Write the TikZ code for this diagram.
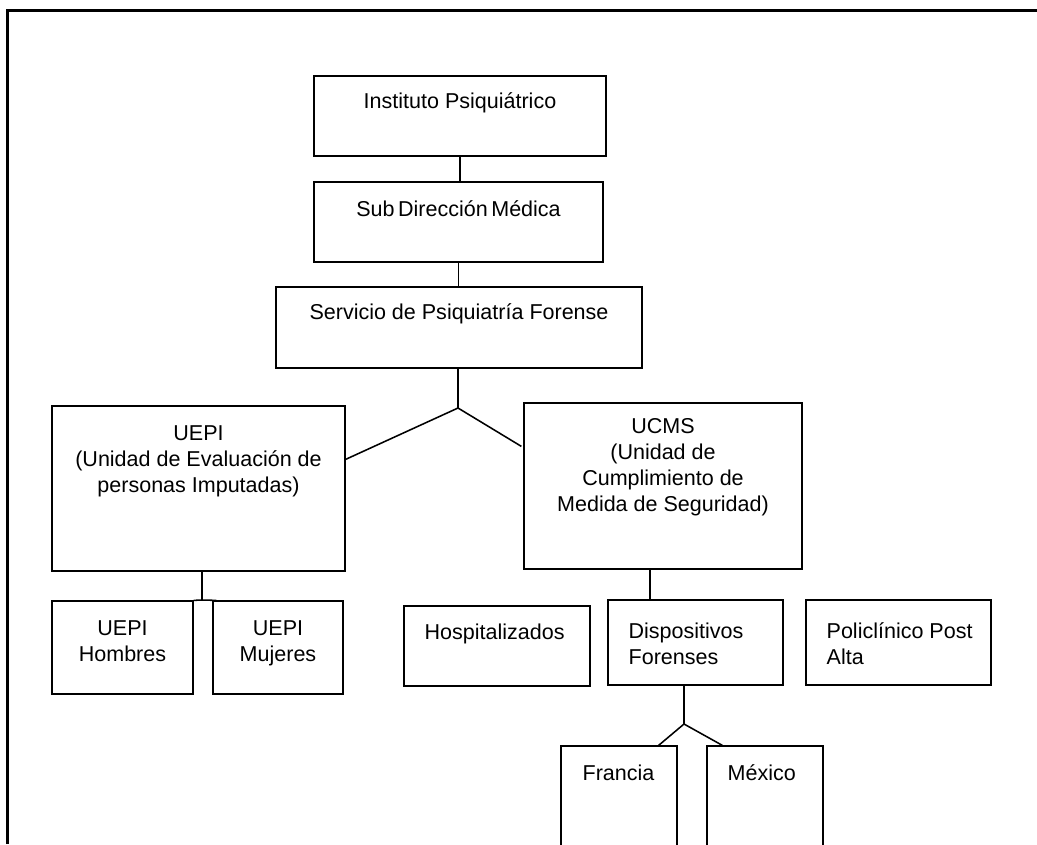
\documentclass[tikz,border=0pt]{standalone}
\usepackage{fontspec}
\setmainfont{Liberation Sans}
\usepackage{tikz}
\usetikzlibrary{positioning,fit}

\tikzset{
  orgbox/.style={draw, line width=0.9pt, inner sep=0pt},
  orgtxt/.style={font=\fontsize{15.3}{18.5}\selectfont, inner sep=0pt, align=center, anchor=base},
  orgtxtl/.style={orgtxt, align=left, anchor=base west},
  link/.style={line width=1.1pt}
}

\begin{document}
\begin{tikzpicture}[x=0.025cm, y=-0.025cm]
  \useasboundingbox (0,0) rectangle (1037,844);
  % frame (cut off right and bottom)
  \draw[line width=2.2pt] (7.5,844) -- (7.5,10.5) -- (1037,10.5);

  \node[orgbox, fit={(314,76) (606,156)}] (inst) {};
  \node[orgbox, fit={(314,182) (603,262)}] (sub) {};
  \node[orgbox, fit={(276,287) (642,368)}] (serv) {};
  \node[orgbox, fit={(52,406) (345,571)}] (uepi) {};
  \node[orgbox, fit={(524,403) (802,569)}] (ucms) {};
  \node[orgbox, fit={(52,601) (193,694)}] (hom) {};
  \node[orgbox, fit={(213,601) (343,694)}] (muj) {};
  \node[orgbox, fit={(404,606) (590,686)}] (hosp) {};
  \node[orgbox, fit={(608,600) (783,685)}] (disp) {};
  \node[orgbox, fit={(806,600) (991,685)}] (poli) {};
  \node[orgbox, fit={(561,746) (677,860)}] (fra) {};
  \node[orgbox, fit={(707,746) (823,860)}] (mex) {};

  % text sits on the baseline of its last line
  \node[orgtxt] (inst-t) at ([yshift=-0.82cm]inst.north) {Instituto Psiquiátrico};
  \node[orgtxt] (sub-t) at ([yshift=-0.88cm]sub.north) {Sub\,Dirección\,Médica};
  \node[orgtxt] (serv-t) at ([yshift=-0.84cm]serv.north) {Servicio de Psiquiatría Forense};
  \node[orgtxt] (uepi-t) at ([yshift=-2.175cm]uepi.north)
    {UEPI\\(Unidad de Evaluación de\\personas Imputadas)};
  \node[orgtxt] (ucms-t) at ([yshift=-2.725cm]ucms.north)
    {UCMS\\(Unidad de\\Cumplimiento de\\Medida de Seguridad)};
  \node[orgtxt] (hom-t) at ([yshift=-1.525cm]hom.north) {UEPI\\Hombres};
  \node[orgtxt] (muj-t) at ([yshift=-1.525cm]muj.north) {UEPI\\Mujeres};
  \node[orgtxtl] (hosp-t) at ([xshift=0.525cm, yshift=-0.85cm]hosp.north west) {Hospitalizados};
  \node[orgtxtl] (disp-t) at ([xshift=0.525cm, yshift=-1.625cm]disp.north west) {Dispositivos\\Forenses};
  \node[orgtxtl] (poli-t) at ([xshift=0.525cm, yshift=-1.625cm]poli.north west) {Policlínico Post\\Alta};
  \node[orgtxtl] (fra-t) at ([xshift=0.55cm, yshift=-0.88cm]fra.north west) {Francia};
  \node[orgtxtl] (mex-t) at ([xshift=0.525cm, yshift=-0.88cm]mex.north west) {México};

  % branch points
  \coordinate (j1) at (458,408);
  \coordinate (j2) at (202,600);
  \coordinate (j3) at (650,600);
  \coordinate (j4) at (684,724);

  \draw[link] (inst.south) -- (inst.south |- sub.north);
  \draw[link] (sub.south) -- (sub.south |- serv.north);
  \draw[link] (serv.south -| j1) -- (j1);
  \draw[link] (j1) -- ([yshift=-1.35cm]uepi.north east);
  \draw[link] (j1) -- ([xshift=-0.05cm, yshift=-1.1cm]ucms.north west);
  \draw[link] (uepi.south -| j2) -- (j2);
  \draw[link] (j2) -- (hom.north east);
  \draw[link] (j2) -- ([xshift=0.1cm]muj.north west);
  \draw[link] (ucms.south -| j3) -- (j3);
  \draw[link] (disp.south -| j4) -- (j4);
  \draw[link] (j4) -- ([xshift=-0.475cm]fra.north east);
  \draw[link] (j4) -- ([xshift=0.4cm]mex.north west);
\end{tikzpicture}
\end{document}
